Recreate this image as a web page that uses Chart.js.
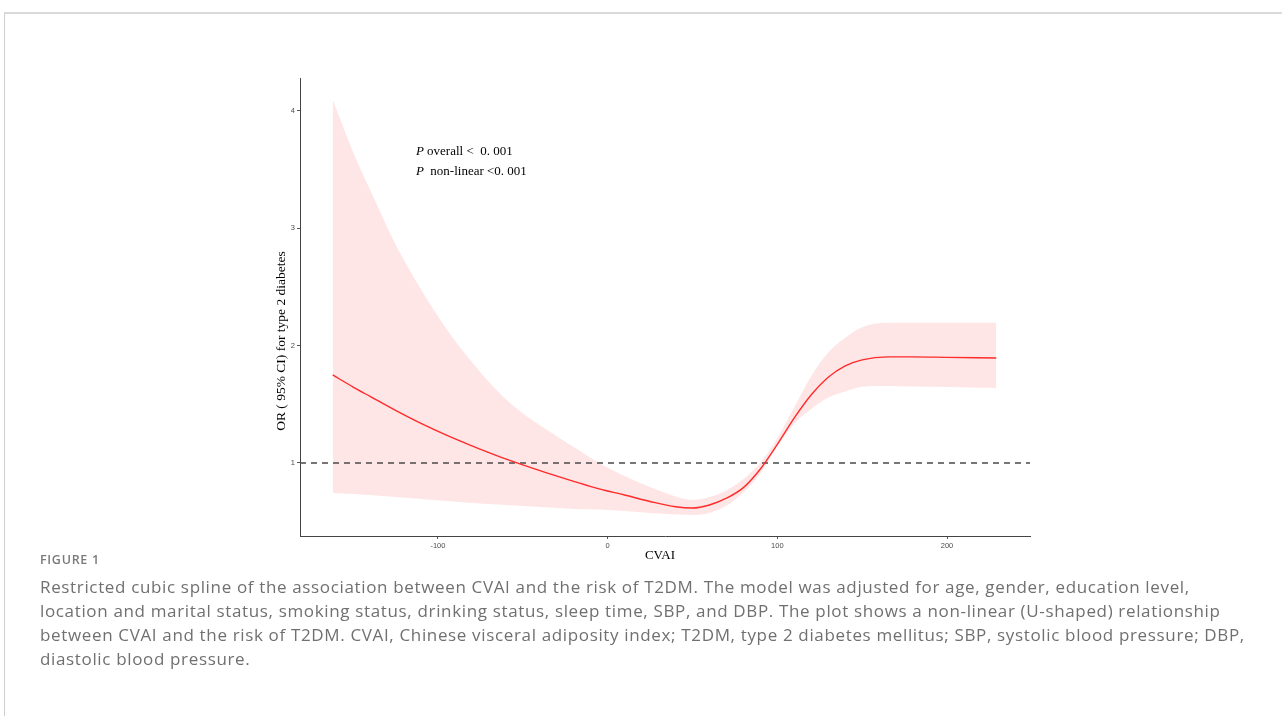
<!DOCTYPE html>
<html>
<head>
<meta charset="utf-8">
<script src="https://cdn.jsdelivr.net/npm/chart.js@4.4.0/dist/chart.umd.min.js"></script>
<style>
  html, body { margin: 0; padding: 0; background: #fff; }
  #page { position: relative; width: 1282px; height: 716px; overflow: hidden; }
  #frame {
    position: absolute; left: 4px; top: 12px; right: 0; bottom: 0;
    border-top: 2px solid #dadada; border-left: 1px solid #cfcfcf;
  }
  #wrap { position: absolute; left: 0; top: 0; width: 1282px; height: 716px; }
  #caption {
    position: absolute; left: 40px; top: 550px; width: 1240px;
    font-family: "Open Sans", "Noto Sans", sans-serif; color: #707070;
  }
  #caption .label { font-size: 12.5px; font-weight: 600; color: #7a7a7a; letter-spacing: 0.7px; line-height: 20px; }
  #caption .body { font-size: 17px; letter-spacing: 0.65px; line-height: 24px; white-space: nowrap; margin-top: 5px; }
</style>
</head>
<body>
<div id="page">
  <div id="frame"></div>
  <div id="wrap"><canvas id="rcs-chart"></canvas></div>
  <div id="caption">
    <div class="label">FIGURE 1</div>
    <div class="body">Restricted cubic spline of the association between CVAI and the risk of T2DM. The model was adjusted for age, gender, education level,<br>location and marital status, smoking status, drinking status, sleep time, SBP, and DBP. The plot shows a non-linear (U-shaped) relationship<br>between CVAI and the risk of T2DM. CVAI, Chinese visceral adiposity index; T2DM, type 2 diabetes mellitus; SBP, systolic blood pressure; DBP,<br>diastolic blood pressure.</div>
  </div>
</div>
<script>
// CVAI values along the spline
const cvai = [-162, -150, -140, -125, -110, -95, -80, -65, -50, -35, -20, -5, 10, 25, 40, 50, 60, 70, 80, 90, 100, 110, 120, 130, 140, 150, 165, 180, 200, 229];
// fitted OR
const orFit = [1.75, 1.647, 1.567, 1.448, 1.337, 1.237, 1.146, 1.061, 0.984, 0.912, 0.844, 0.779, 0.727, 0.672, 0.627, 0.616, 0.642, 0.70, 0.79, 0.949, 1.159, 1.384, 1.581, 1.731, 1.828, 1.879, 1.904, 1.904, 1.90, 1.895];
// 95% CI
const orLower = [0.744, 0.736, 0.727, 0.71, 0.693, 0.676, 0.659, 0.646, 0.633, 0.621, 0.608, 0.604, 0.591, 0.574, 0.561, 0.557, 0.574, 0.637, 0.749, 0.911, 1.147, 1.337, 1.46, 1.557, 1.609, 1.649, 1.656, 1.652, 1.648, 1.639];
const orUpper = [4.095, 3.65, 3.327, 2.862, 2.48, 2.142, 1.861, 1.614, 1.423, 1.275, 1.136, 1.0, 0.889, 0.795, 0.715, 0.685, 0.71, 0.766, 0.864, 1.002, 1.21, 1.477, 1.742, 1.942, 2.066, 2.157, 2.194, 2.194, 2.194, 2.194];

const xTicks = [-100, 0, 100, 200];
const yTicks = [1, 2, 3, 4];
const xRange = [-181.3, 248.9];
const yRange = [0.378, 4.28];
const refOR = 1;

const toPoints = (ys) => cvai.map((x, i) => ({ x, y: ys[i] }));

// axis titles + p-value annotation
const textPlugin = {
  id: 'rcsText',
  afterDraw(chart) {
    const { ctx, chartArea, scales } = chart;
    const serif = '"Liberation Serif", "DejaVu Serif", serif';
    ctx.save();
    ctx.fillStyle = '#000';
    ctx.font = '13px ' + serif;
    ctx.textAlign = 'center';
    ctx.textBaseline = 'middle';
    // x title
    ctx.fillText('CVAI', (chartArea.left + chartArea.right) / 2 - 5, chartArea.bottom + 20);
    // y title
    ctx.save();
    ctx.translate(chartArea.left - 19, (chartArea.top + chartArea.bottom) / 2 + 34);
    ctx.rotate(-Math.PI / 2);
    ctx.font = '13.5px ' + serif;
    ctx.fillText('OR ( 95% CI) for type 2 diabetes', 0, 0);
    ctx.restore();

    // annotation
    const ax = scales.x.getPixelForValue(-113);
    const ay = scales.y.getPixelForValue(3.65);
    const lines = [' overall <  0. 001', '  non-linear <0. 001'];
    ctx.textAlign = 'left';
    lines.forEach((txt, i) => {
      const yy = ay + i * 20;
      ctx.font = 'italic 13px ' + serif;
      ctx.fillText('P', ax, yy);
      const w = ctx.measureText('P').width;
      ctx.font = '13px ' + serif;
      ctx.fillText(txt, ax + w, yy);
    });
    ctx.restore();
  }
};

new Chart(document.getElementById('rcs-chart'), {
  type: 'line',
  data: {
    datasets: [
      {
        label: 'Lower CI',
        data: toPoints(orLower),
        borderWidth: 0,
        pointRadius: 0,
        fill: false,
        cubicInterpolationMode: 'monotone',
        order: 3
      },
      {
        label: 'Upper CI',
        data: toPoints(orUpper),
        borderWidth: 0,
        pointRadius: 0,
        backgroundColor: 'rgba(255, 60, 60, 0.13)',
        fill: '-1',
        cubicInterpolationMode: 'monotone',
        order: 3
      },
      {
        label: 'OR',
        data: toPoints(orFit),
        borderColor: '#ff2a2a',
        borderWidth: 1.4,
        pointRadius: 0,
        fill: false,
        cubicInterpolationMode: 'monotone',
        order: 1
      },
      {
        label: 'Reference',
        data: [{ x: xRange[0], y: refOR }, { x: xRange[1], y: refOR }],
        borderColor: '#4a4a4a',
        borderWidth: 1.5,
        borderDash: [6, 5],
        pointRadius: 0,
        fill: false,
        order: 2
      }
    ]
  },
  options: {
    responsive: true,
    maintainAspectRatio: false,
    animation: false,
    layout: { padding: { left: 270, right: 252, top: 78, bottom: 160 } },
    plugins: {
      legend: { display: false },
      tooltip: { enabled: false }
    },
    scales: {
      x: {
        type: 'linear',
        min: xRange[0],
        max: xRange[1],
        afterBuildTicks: (scale) => { scale.ticks = xTicks.map(v => ({ value: v })); },
        afterFit: (scale) => { scale.height = 20; },
        grid: { display: true, drawOnChartArea: false, drawTicks: true, tickLength: 3, color: '#555' },
        border: { display: true, color: '#444', width: 1 },
        ticks: {
          color: '#4d4d4d',
          padding: 2,
          maxRotation: 0,
          font: { family: 'Liberation Sans, Arial, sans-serif', size: 7.5 }
        }
      },
      y: {
        type: 'linear',
        min: yRange[0],
        max: yRange[1],
        afterBuildTicks: (scale) => { scale.ticks = yTicks.map(v => ({ value: v })); },
        afterFit: (scale) => { scale.width = 30; },
        grid: { display: true, drawOnChartArea: false, drawTicks: true, tickLength: 3, color: '#555' },
        border: { display: true, color: '#444', width: 1 },
        ticks: {
          color: '#4d4d4d',
          padding: 2,
          font: { family: 'Liberation Sans, Arial, sans-serif', size: 7.5 }
        }
      }
    }
  },
  plugins: [textPlugin]
});
</script>
</body>
</html>
